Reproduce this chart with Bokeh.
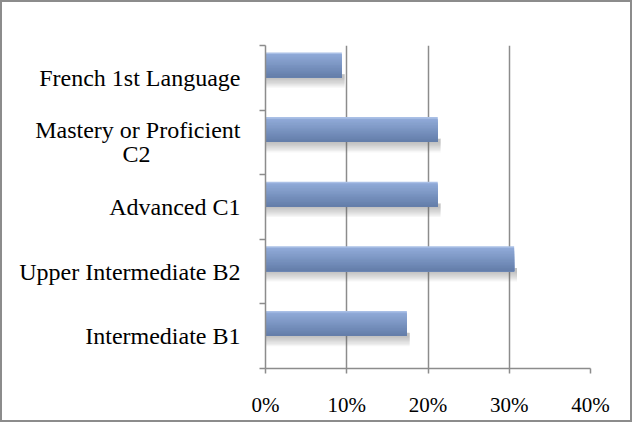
from bokeh.plotting import figure
from bokeh.models import (Range1d, FixedTicker, NumeralTickFormatter,
                          ColumnDataSource)
from bokeh.embed import file_html
from bokeh.resources import INLINE

# ---- data ----
categories = ["French 1st Language", "Mastery or Proficient\nC2", "Advanced C1",
              "Upper Intermediate B2", "Intermediate B1"]
values = [0.094, 0.212, 0.212, 0.306, 0.174]
x_ticks = [0.0, 0.1, 0.2, 0.3, 0.4]

GRAY = "#8c8c8c"
FONT = "Liberation Serif"
n = len(categories)


def centred(label, pad=15):
    # second line of a wrapped label is centred under the first one
    lines = label.split("\n")
    if len(lines) == 1:
        return label
    return lines[0] + "\n" + lines[1] + "\u00a0" * pad


p = figure(width=632, height=422, output_backend="svg", toolbar_location=None,
           x_range=Range1d(0, 0.4), y_range=Range1d(0, n),
           min_border_left=263, min_border_right=44, min_border_top=43,
           min_border_bottom=56)
p.outline_line_color = None
p.background_fill_color = "white"
p.border_fill_color = "white"
p.styles = {"border": "2px solid " + GRAY}

# x axis
xa = p.xaxis[0]
xa.ticker = FixedTicker(ticks=x_ticks)
xa.formatter = NumeralTickFormatter(format="0%")
xa.axis_line_color = GRAY
xa.axis_line_width = 1.5
xa.major_tick_line_color = GRAY
xa.major_tick_line_width = 1.5
xa.major_tick_in = 0
xa.major_tick_out = 5
xa.minor_tick_line_color = None
xa.major_label_standoff = 19
xa.major_label_text_font = FONT
xa.major_label_text_font_size = "21px"
xa.major_label_text_color = "black"

# y axis: labels at band centres, tick marks at band boundaries (minor ticks)
centers = [n - k - 0.5 for k in range(n)]
ya = p.yaxis[0]
ya.ticker = FixedTicker(ticks=centers, minor_ticks=list(range(n + 1)))
ya.major_label_overrides = {c: centred(cat) for c, cat in zip(centers, categories)}
ya.axis_line_color = GRAY
ya.axis_line_width = 1.5
ya.major_tick_line_color = None
ya.major_tick_in = 0
ya.major_tick_out = 0
ya.minor_tick_line_color = GRAY
ya.minor_tick_line_width = 1.5
ya.minor_tick_in = 0
ya.minor_tick_out = 6
ya.major_label_standoff = 19
ya.major_label_text_font = FONT
ya.major_label_text_font_size = "24px"
ya.major_label_text_line_height = 0.93
ya.major_label_text_color = "black"

p.xgrid.ticker = FixedTicker(ticks=x_ticks)
p.xgrid.grid_line_color = GRAY
p.xgrid.grid_line_width = 1.5
p.ygrid.grid_line_color = None

# ---- bars: soft shadow + vertical gradient (nested strips) ----
bar_top_off, bar_bot_off = 0.108, 0.495
N = 16
top_rgb = (146, 172, 218)
bot_rgb = (100, 126, 170)
h = (bar_bot_off - bar_top_off) / N

S = 8
ssh = 0.02
sb, st, sr = [], [], []
for k, v in enumerate(values):
    bottom = n - k - bar_bot_off
    for s in range(S):
        st.append(bottom + 0.05)
        sb.append(bottom - (S - s) * ssh)
        sr.append(v + 0.0035)
p.quad(left=0, right="r", top="t", bottom="b",
       source=ColumnDataSource(dict(t=st, b=sb, r=sr)),
       fill_color="#6e6e6e", fill_alpha=0.06, line_color=None)

qt, qb, qr, qc = [], [], [], []
for k, v in enumerate(values):
    band_top = n - k
    bottom = band_top - bar_bot_off
    for j in range(N):
        t = j / (N - 1)
        rgb = tuple(int(round(top_rgb[i] + (bot_rgb[i] - top_rgb[i]) * t)) for i in range(3))
        if j == 0:
            rgb = (170, 192, 230)
        qt.append(band_top - bar_top_off - j * h)
        qb.append(bottom)
        qr.append(v)
        qc.append("#%02x%02x%02x" % rgb)
p.quad(left=0, right="r", top="t", bottom="b", fill_color="c",
       source=ColumnDataSource(dict(t=qt, b=qb, r=qr, c=qc)), line_color=None)

open("out.html", "w").write(file_html(p, INLINE))
